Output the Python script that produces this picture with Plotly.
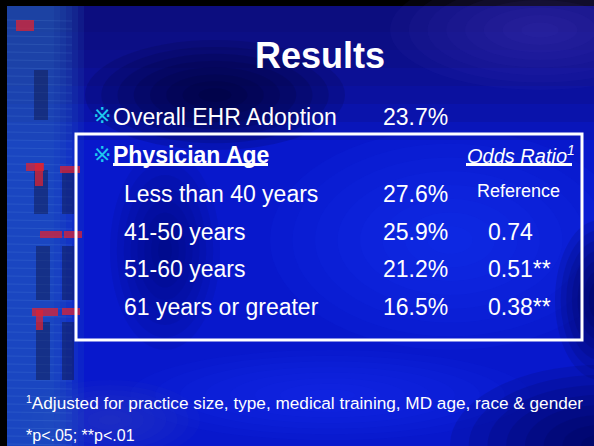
import plotly.graph_objects as go

W, H = 594, 446

# slide content
title = "Results"
overall_label = "Overall EHR Adoption"
overall_rate = 23.7
group_label = "Physician Age"
or_header = "Odds Ratio"
age_groups = ["Less than 40 years", "41-50 years", "51-60 years", "61 years or greater"]
adoption_rates = [27.6, 25.9, 21.2, 16.5]
odds_ratios = [None, 0.74, 0.51, 0.38]
significance = ["", "", "**", "**"]
footnote = "Adjusted for practice size, type, medical training, MD age, race & gender"
pvalue_note = "*p<.05; **p<.01"

FONT = "Liberation Sans, Arial, sans-serif"
BULLET = "#1ec8f0"

fig = go.Figure()
shapes = []


def rect(x0, y0, x1, y1, fill, line=None, lw=0):
    shapes.append(dict(type="rect", xref="x", yref="y", x0=x0, y0=y0, x1=x1, y1=y1,
                       fillcolor=fill, line=dict(width=lw, color=line or "rgba(0,0,0,0)"), layer="below"))


def glow(cx, cy, rx, ry, rgb, n=8, alpha=0.1):
    # soft blob made of stacked translucent ellipses
    for k in range(n):
        f = 1 - k / n
        shapes.append(dict(type="circle", xref="x", yref="y",
                           x0=cx - rx * f, x1=cx + rx * f, y0=cy - ry * f, y1=cy + ry * f,
                           fillcolor="rgba(%d,%d,%d,%.3f)" % (rgb + (alpha,)),
                           line=dict(width=0), layer="below"))


# background
rect(7, 6, W, H, "#0818cc")
for k in range(7):
    rect(7, 6, W, 140 - k * 18, "rgba(20,10,100,0.17)")
glow(540, 30, 150, 60, (80, 60, 200), alpha=0.06)
glow(215, 95, 130, 55, (0, 0, 40), alpha=0.14)
glow(450, 240, 180, 110, (20, 60, 255), alpha=0.08)
glow(330, 395, 200, 45, (25, 60, 250), alpha=0.07)
glow(600, 445, 150, 80, (0, 0, 60), alpha=0.12)
glow(600, 300, 45, 80, (0, 0, 55), alpha=0.12)
glow(165, 250, 55, 100, (0, 0, 70), alpha=0.07)
glow(110, 420, 90, 40, (60, 90, 190), alpha=0.06)

# circuit board strip on the left
for k in range(6):
    rect(7, 6, 84 - k * 6, H, "rgba(40,100,190,0.15)")
for y in range(20, H, 8):
    shapes.append(dict(type="line", xref="x", yref="y", x0=7, x1=72, y0=y, y1=y + 1,
                       line=dict(color="rgba(120,180,235,0.14)", width=1), layer="below"))
for x0, y0, x1, y1 in [(34, 170, 48, 214), (62, 170, 74, 214), (36, 246, 50, 300), (62, 246, 74, 300),
                       (36, 322, 50, 380), (62, 322, 74, 380), (34, 70, 48, 120)]:
    rect(x0, y0, x1, y1, "rgba(15,25,80,0.5)")
for x0, y0, x1, y1 in [(26, 163, 44, 171), (35, 163, 43, 186), (60, 166, 80, 173), (40, 231, 62, 238),
                       (64, 231, 82, 238), (32, 308, 58, 316), (62, 308, 80, 315), (36, 310, 43, 330),
                       (16, 20, 34, 31)]:
    rect(x0, y0, x1, y1, "rgba(220,35,50,0.75)")

# white frame round the age block
rect(76, 134, 582, 340, "rgba(0,0,0,0)", line="white", lw=3)
# underlines
for x0, x1 in [(113, 268), (466, 572)]:
    shapes.append(dict(type="line", xref="x", yref="y", x0=x0, x1=x1, y0=164.5, y1=164.5,
                       line=dict(color="white", width=3)))

ann = []


def text(x, y, s, size, anchor="left", color="white", family=FONT):
    ann.append(dict(x=x, y=y, xref="x", yref="y", text=s, showarrow=False, xanchor=anchor,
                    yanchor="middle", font=dict(family=family, size=size, color=color), borderpad=0))


text(320, 55, "<b>%s</b>" % title, 36, anchor="center")

text(92, 115, "※", 22, color=BULLET, family="DejaVu Sans")
text(112, 117, overall_label, 23)
text(382, 117, "%.1f%%" % overall_rate, 23)

text(92, 154, "※", 22, color=BULLET, family="DejaVu Sans")
text(112, 155, "<b>%s</b>" % group_label, 23)
text(466, 154, "<i>%s<sup>1</sup></i>" % or_header, 20)

row_y = [194, 232, 269, 307]
for y, grp, rate, odds, sig in zip(row_y, age_groups, adoption_rates, odds_ratios, significance):
    text(123, y, grp, 23)
    text(382, y, "%.1f%%" % rate, 23)
    if odds is None:
        text(476, y - 3, "Reference", 18)
    else:
        text(487, y, "%.2f%s" % (odds, sig), 23)

text(25, 403, "<span style='font-size:15px'><sup>1</sup></span>" + footnote, 17.2)
text(25, 435, pvalue_note, 16)

fig.update_layout(
    width=W, height=H, margin=dict(l=0, r=0, t=0, b=0),
    paper_bgcolor="black", plot_bgcolor="black",
    xaxis=dict(range=[0, W], visible=False, fixedrange=True),
    yaxis=dict(range=[H, 0], visible=False, fixedrange=True),
    shapes=shapes, annotations=ann, showlegend=False,
)

fig.write_html("out.html", config=dict(displayModeBar=False),
               post_script="document.body.style.margin='0';")
